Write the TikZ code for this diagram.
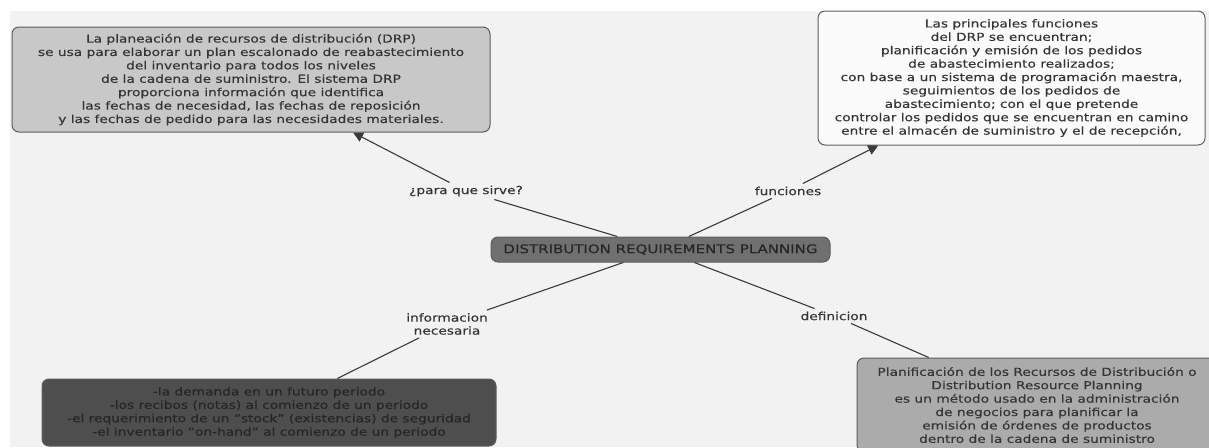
\documentclass[tikz,border=0pt]{standalone}
\usepackage{fontspec}
\setmainfont{DejaVu Sans}[FakeStretch=1.25,FakeBold=0.35]
\usetikzlibrary{arrows.meta}
\definecolor{pagegrey}{HTML}{F2F2F2}
\definecolor{linegrey}{HTML}{3A3A3A}
\definecolor{edgegrey}{HTML}{5E5E5E}
\definecolor{inkgrey}{HTML}{353535}
\definecolor{darkink}{HTML}{262626}
\definecolor{lightfill}{HTML}{C8C8C8}
\definecolor{whitefill}{HTML}{FBFBFB}
\definecolor{midfill}{HTML}{ABABAB}
\definecolor{corefill}{HTML}{707070}
\definecolor{darkfill}{HTML}{4E4E4E}
\tikzset{
  concept/.style={draw=edgegrey, line width=1pt, rounded corners=7pt,
    align=center, text=inkgrey, inner sep=0pt,
    font=\fontsize{11}{13.4}\selectfont},
  linkword/.style={align=center, text=inkgrey, inner sep=3pt,
    font=\fontsize{11}{13}\selectfont},
  conn/.style={draw=linegrey, line width=1.1pt},
  arrowconn/.style={conn, -{Triangle[length=10pt,width=10pt]}}
}
\begin{document}
\begin{tikzpicture}[x=1pt,y=-1pt]
\useasboundingbox (0,0) rectangle (1209,447);
\clip (0,0) rectangle (1209,447);
% page background
\fill[white] (0,0) rectangle (1209,447);
\fill[pagegrey] (10,11) rectangle (1209,447);

% central concept
\node[concept, fill=corefill, minimum width=339pt, minimum height=25pt,
      font=\fontsize{12}{14}\selectfont, text=darkink] (drp) at (660.5,249.5)
  {DISTRIBUTION REQUIREMENTS PLANNING};

% surrounding concepts
\node[concept, fill=lightfill, minimum width=478pt, minimum height=105pt] (uso) at (251,79.5)
  {La planeación de recursos de distribución (DRP)\\
   se usa para elaborar un plan escalonado de reabastecimiento\\
   del inventario para todos los niveles\\
   de la cadena de suministro. El sistema DRP\\
   proporciona información que identifica\\
   las fechas de necesidad, las fechas de reposición\\
   y las fechas de pedido para las necesidades materiales.};

\node[concept, fill=whitefill, minimum width=387pt, minimum height=134pt] (func) at (1011.5,78)
  {Las principales funciones\\
   del DRP se encuentran;\\
   planificación y emisión de los pedidos\\
   de abastecimiento realizados;\\
   con base a un sistema de programación maestra,\\
   seguimientos de los pedidos de\\
   abastecimiento; con el que pretende\\
   controlar los pedidos que se encuentran en camino\\
   entre el almacén de suministro y el de recepción,};

\node[concept, fill=darkfill, minimum width=454pt, minimum height=67pt, text=darkink] (info) at (269,412.5)
  {-la demanda en un futuro periodo\\
   -los recibos (notas) al comienzo de un periodo\\
   -el requerimiento de un "stock" (existencias) de seguridad\\
   -el inventario "on-hand" al comienzo de un periodo};

\node[concept, fill=midfill, minimum width=360pt, minimum height=94pt] (defi) at (1037,405)
  {Planificación de los Recursos de Distribución o\\
   Distribution Resource Planning\\
   es un método usado en la administración\\
   de negocios para planificar la\\
   emisión de órdenes de productos\\
   dentro de la cadena de suministro};

% linking phrases
\node[linkword] (lsirve) at (466,191) {¿para que sirve?};
\node[linkword] (lfunc) at (788,191) {funciones};
\node[linkword] (linfo) at (447,324) {informacion\\necesaria};
\node[linkword] (ldef) at (834,316) {definicion};

% connectors
\draw[conn] (drp) -- (lsirve);
\draw[arrowconn] (lsirve) -- (uso);
\draw[conn] (drp) -- (lfunc);
\draw[arrowconn] (lfunc) -- (func);
\draw[conn] (drp) -- (linfo);
\draw[conn] (linfo) -- (info);
\draw[conn] (drp) -- (ldef);
\draw[conn] (ldef) -- (defi);
\end{tikzpicture}
\end{document}
